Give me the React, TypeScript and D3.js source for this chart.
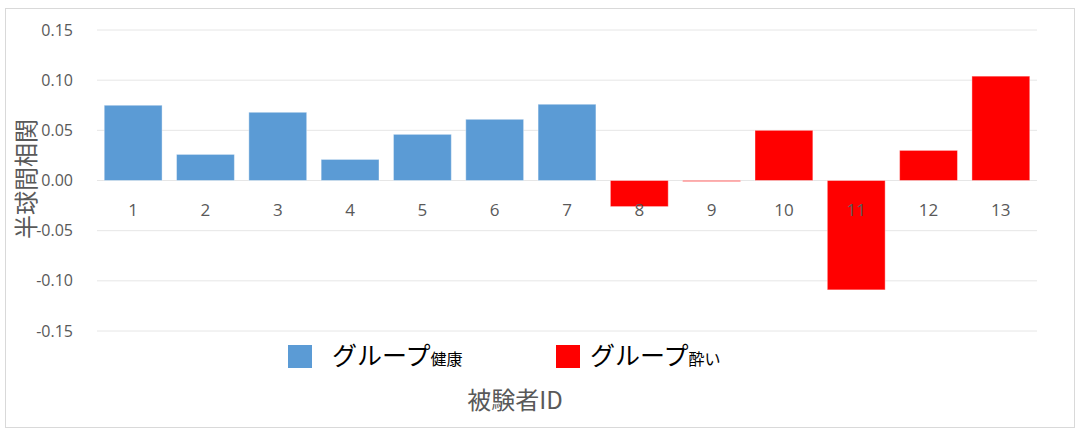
import React from "react";
import * as d3 from "d3";

const subjects = ["1","2","3","4","5","6","7","8","9","10","11","12","13"];
const values = [0.075, 0.026, 0.068, 0.021, 0.046, 0.061, 0.076, -0.026, -0.001, 0.050, -0.109, 0.030, 0.104];
const groups = ["healthy","healthy","healthy","healthy","healthy","healthy","healthy","drunk","drunk","drunk","drunk","drunk","drunk"];
const yTicks = [0.15, 0.10, 0.05, 0.0, -0.05, -0.10, -0.15];
const legendMain = ["グループ", "グループ"];
const legendSub = ["健康", "酔い"];
const legendKeys = ["healthy", "drunk"];

const colors: Record<string, string> = { healthy: "#5B9BD5", drunk: "#FF0000" };
const W = 1076, H = 429;
const axisColor = "#595959";
const numFont = "'Open Sans', 'Liberation Sans', sans-serif";
const jpFont = "'Noto Sans CJK JP', sans-serif";

export default function App() {
  const x = d3.scaleBand<string>().domain(subjects).range([97, 1037]).paddingInner(0.2).paddingOuter(0.1);
  const y = d3.scaleLinear().domain([-0.15, 0.15]).range([331, 30]);
  const legendX = [288, 556];
  const fmt = (t: number) => d3.format(".2f")(t).replace("\u2212", "-");
  return (
    <svg width={W} height={H} style={{ position: "absolute", left: 0, top: 0 }}>
      <rect x={5.5} y={8.5} width={1069} height={419} fill="#fff" stroke="#D9D9D9" />
      {yTicks.map((t) => (
        <g key={t}>
          <line x1={97} x2={1037} y1={y(t)} y2={y(t)} stroke="#E6E6E6" strokeWidth={1} />
          <text x={73} y={y(t)} dy="0.35em" textAnchor="end" fontSize={16} fill={axisColor} fontFamily={numFont}>
            {fmt(t)}
          </text>
        </g>
      ))}
      {values.map((v, i) => {
        const x0 = x(subjects[i])!;
        const y0 = y(Math.max(v, 0));
        const h = Math.max(Math.abs(y(v) - y(0)), 1);
        return (
          <rect key={i} x={x0} y={y0} width={x.bandwidth()} height={h} fill={colors[groups[i]]} stroke="#ffffff" strokeOpacity={0.4} strokeWidth={1} />
        );
      })}
      {subjects.map((s) => (
        <text key={s} x={x(s)! + x.bandwidth() / 2} y={210} dy="0.35em" textAnchor="middle" fontSize={17} fill={axisColor} fontFamily={numFont}>
          {s}
        </text>
      ))}
      <text transform={`translate(35,179) rotate(-90)`} textAnchor="middle" fontSize={24} fill={axisColor} fontFamily={jpFont}>
        半球間相関
      </text>
      {legendKeys.map((k, i) => (
        <g key={k}>
          <rect x={legendX[i]} y={345} width={24} height={23} fill={colors[k]} />
          <text x={legendX[i] + 44 - (i === 1 ? 10 : 0)} y={365} fontSize={25} fill="#000" fontFamily={jpFont}>
            {legendMain[i]}
            <tspan fontSize={16}>{legendSub[i]}</tspan>
          </text>
        </g>
      ))}
      <text x={515} y={409} textAnchor="middle" fontSize={24} fill={axisColor} fontFamily={jpFont}>
        被験者ID
      </text>
    </svg>
  );
}
